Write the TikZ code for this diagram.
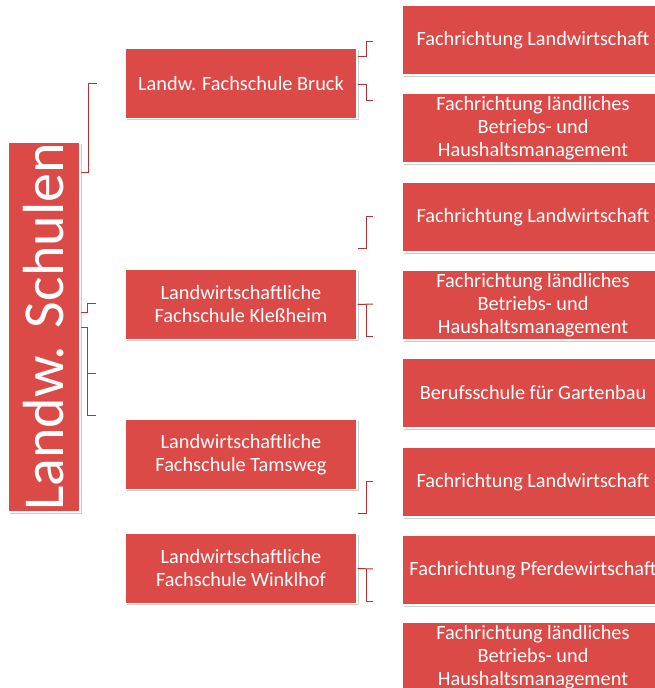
\documentclass[tikz,border=0pt]{standalone}
\usepackage{fontspec}
\setmainfont{Carlito}
\usetikzlibrary{shadows}
\definecolor{boxred}{RGB}{220,74,72}
\definecolor{linered}{RGB}{185,48,48}

\begin{document}
\begin{tikzpicture}[x=1pt, y=-1pt, font=\fontsize{20.3}{23}\selectfont,
  box/.style={fill=boxred, draw=white, line width=1.2pt, text=white, align=center, inner sep=0pt, minimum height=70pt, drop shadow={shadow xshift=1.5pt, shadow yshift=-1.5pt, fill=black!40, opacity=0.5}},
  school/.style={box, minimum width=232pt},
  branch/.style={box, minimum width=262pt},
  conn/.style={linered, line width=1pt}]
  \useasboundingbox (0,0) rectangle (655,688);
  % root and schools
  \node[box, minimum width=72pt, minimum height=370pt] (root) at (44,327) {\rotatebox{90}{\fontsize{58}{62}\selectfont Landw. Schulen}};
  \node[school] (bruck) at (241,83.5) {Landw. Fachschule Bruck};
  \node[school] (klessheim) at (241,304.5) {Landwirtschaftliche\\Fachschule Kleßheim};
  \node[school] (tamsweg) at (241,454.5) {Landwirtschaftliche\\Fachschule Tamsweg};
  \node[school] (winklhof) at (241,568.5) {Landwirtschaftliche\\Fachschule Winklhof};
  % branches
  \foreach \y/\txt [count=\i] in {40/{Fachrichtung Landwirtschaft}, 128/{Fachrichtung ländliches\\Betriebs- und\\Haushaltsmanagement}, 217/{Fachrichtung Landwirtschaft}, 305/{Fachrichtung ländliches\\Betriebs- und\\Haushaltsmanagement}, 393/{Berufsschule für Gartenbau}, 482/{Fachrichtung Landwirtschaft}, 570/{Fachrichtung Pferdewirtschaft}, 657/{Fachrichtung ländliches\\Betriebs- und\\Haushaltsmanagement}}
    {\node[branch] (br\i) at (533,\y) {\txt};}
  % free ends of the connectors
  \coordinate (r1) at (97,83);
  \coordinate (r2) at (96,303);
  \coordinate (r3) at (96,373);
  \coordinate (r4) at (96,415);
  \coordinate (b1) at (373,41);
  \coordinate (b2) at (373,100);
  \coordinate (k1) at (373,216);
  \coordinate (k2) at (373,304);
  \coordinate (k3) at (373,336);
  \coordinate (t1) at (373,481);
  \coordinate (w1) at (373,569);
  \coordinate (w2) at (373,601);
  % connectors
  \draw[conn] (root.east |- 0,172) -- ++(8,0) |- (r1);
  \draw[conn] (root.east |- 0,312) -- ++(7,0) |- (r2);
  \draw[conn] (root.east |- 0,327) -- ++(7,0) |- (r4);
  \draw[conn] (87,373) -- (r3);
  \draw[conn] (bruck.east |- 0,56) -- ++(9,0) |- (b1);
  \draw[conn] (bruck.east |- 0,84) -- ++(9,0) |- (b2);
  \draw[conn] (klessheim.east |- 0,248) -- ++(9,0) |- (k1);
  \draw[conn] (klessheim.east) -- (k2);
  \draw[conn] (366,304) |- (k3);
  \draw[conn] (tamsweg.east |- 0,513) -- ++(9,0) |- (t1);
  \draw[conn] (winklhof.east) -- (w1);
  \draw[conn] (366,569) |- (w2);
\end{tikzpicture}
\end{document}
